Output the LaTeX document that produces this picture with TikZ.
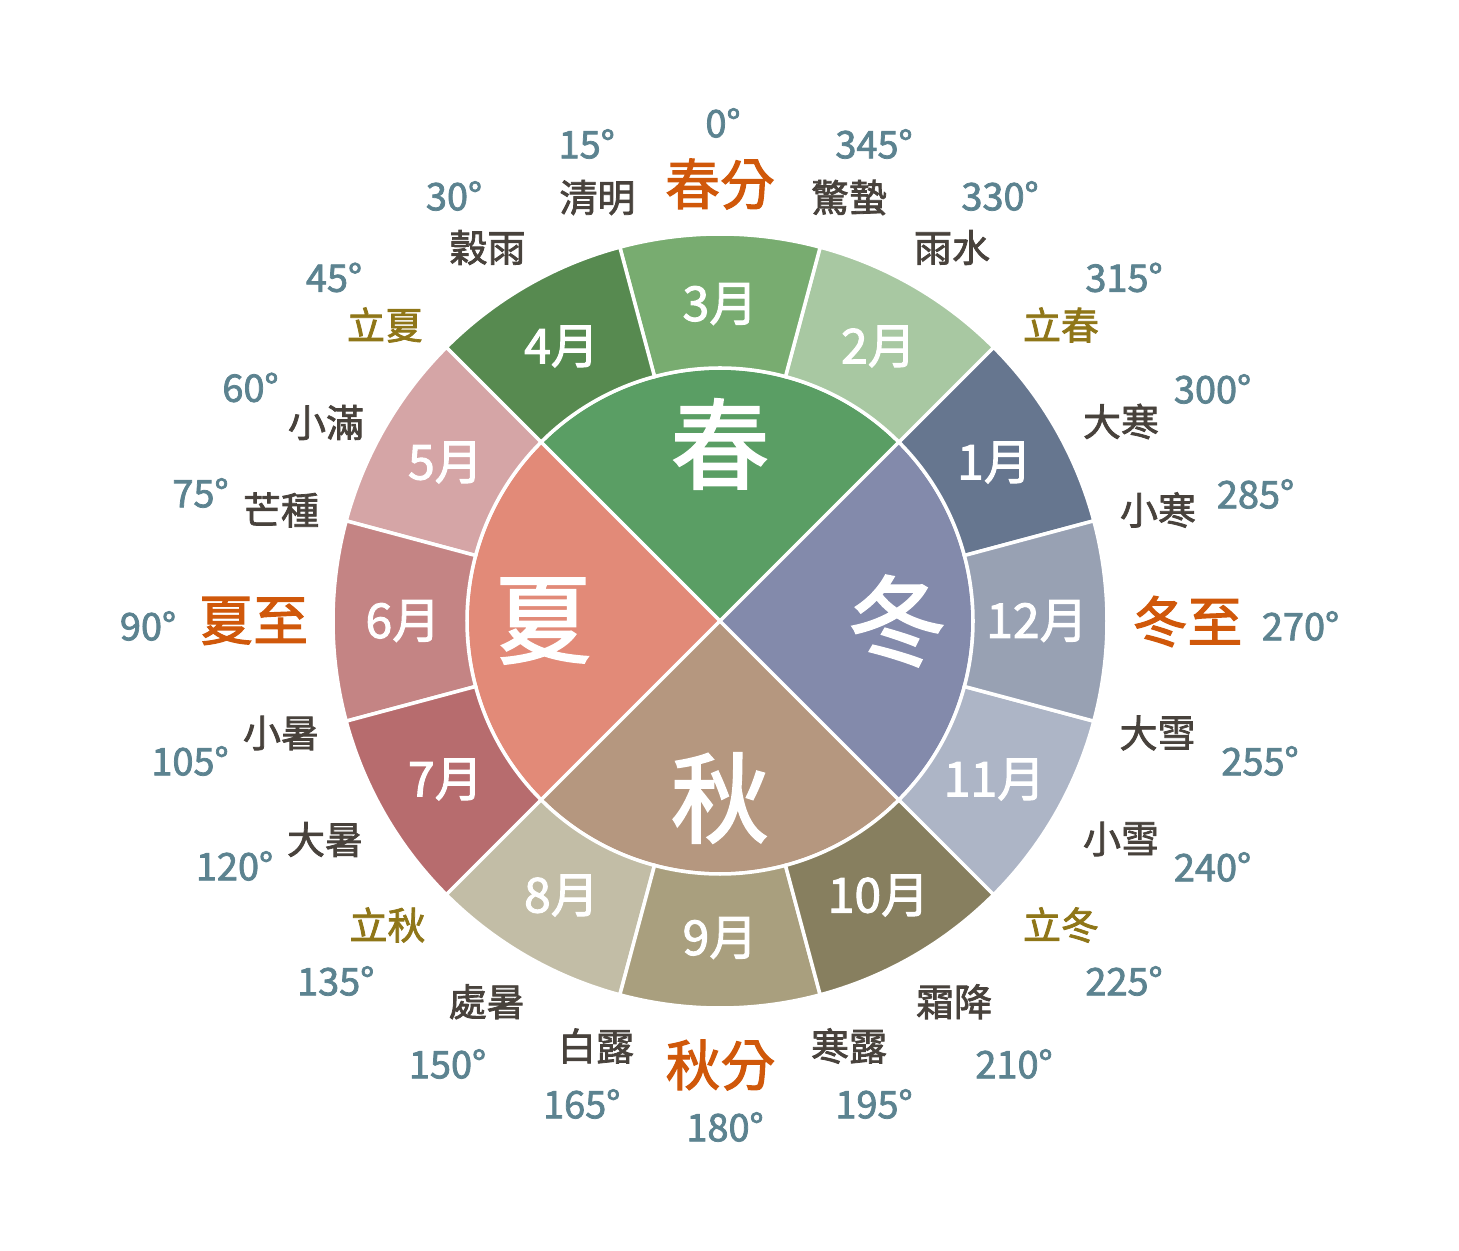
\documentclass[tikz,border=0pt]{standalone}
\usepackage{fontspec}
\setmainfont{Noto Sans CJK TC}[FakeBold=2]
\definecolor{spring}{HTML}{5A9E64}
\definecolor{summer}{HTML}{E28A78}
\definecolor{autumn}{HTML}{B5977F}
\definecolor{winter}{HTML}{838AAB}
\definecolor{month1}{HTML}{66768F}
\definecolor{month2}{HTML}{A8C8A2}
\definecolor{month3}{HTML}{78AC70}
\definecolor{month4}{HTML}{578A50}
\definecolor{month5}{HTML}{D5A5A6}
\definecolor{month6}{HTML}{C48484}
\definecolor{month7}{HTML}{B76C6E}
\definecolor{month8}{HTML}{C2BDA6}
\definecolor{month9}{HTML}{A99F7E}
\definecolor{month10}{HTML}{877F5F}
\definecolor{month11}{HTML}{ADB5C6}
\definecolor{month12}{HTML}{98A1B3}
\definecolor{termgrey}{HTML}{48423C}
\definecolor{termorange}{HTML}{D0580A}
\definecolor{termolive}{HTML}{8F7618}
\definecolor{deggrey}{HTML}{5C8390}
\usepackage{tikz}

\begin{document}
\begin{tikzpicture}[
    term/.style={text=termgrey, font=\fontsize{10.8}{12}\selectfont, inner sep=1pt},
    term major/.style={term, text=termorange, font=\fontsize{15.6}{17}\selectfont},
    term start/.style={term, text=termolive},
    deg/.style={text=deggrey, font=\fontsize{10.8}{12}\selectfont, inner sep=1pt},
    month/.style={text=white, font=\fontsize{13.7}{15}\selectfont},
    season/.style={text=white, font=\fontsize{28}{30}\selectfont},
    sector/.style={draw=white, line width=1pt}
]
    \useasboundingbox (-7.20,-6.30) rectangle (7.39,6.21);

    % Seasons (inner wedges)
    \foreach \a/\c/\n in {90/spring/春, 180/summer/夏, 270/autumn/秋, 0/winter/冬} {
        \filldraw[sector, fill=\c] (0,0) -- (\a-45:2.53) arc[start angle=\a-45, end angle=\a+45, radius=2.53] -- cycle;
        \node[season] (s\a) at (\a:1.77) {\n};
    }

    % Months (outer ring)
    \foreach \m in {1,...,12} {
        \pgfmathsetmacro\a{30*\m}
        \filldraw[sector, fill=month\m] (\a-15:2.53) arc[start angle=\a-15, end angle=\a+15, radius=2.53]
            -- (\a+15:3.87) arc[start angle=\a+15, end angle=\a-15, radius=3.87] -- cycle;
        \node[month] (m\m) at (\a:3.17) {\m{}月};
    }

    % Solar terms: longitude / name / style / name position / degree position
    \foreach \d/\n/\s/\x/\y/\u/\v in {
        0/春分/term major/0.00/4.37/0.03/4.98,
        15/清明/term/-1.225/4.235/-1.333/4.77,
        30/穀雨/term/-2.325/3.735/-2.66/4.25,
        45/立夏/term start/-3.35/2.96/-3.86/3.435,
        60/小滿/term/-3.94/1.985/-4.695/2.335,
        75/芒種/term/-4.39/1.11/-5.195/1.28,
        90/夏至/term major/-4.667/0.00/-5.72/-0.05,
        105/小暑/term/-4.39/-1.12/-5.30/-1.40,
        120/大暑/term/-3.95/-2.185/-4.855/-2.45,
        135/立秋/term start/-3.325/-3.04/-3.843/-3.60,
        150/處暑/term/-2.333/-3.807/-2.725/-4.43,
        165/白露/term/-1.24/-4.25/-1.383/-4.83,
        180/秋分/term major/0.005/-4.44/0.05/-5.06,
        195/寒露/term/1.29/-4.25/1.54/-4.83,
        210/霜降/term/2.34/-3.807/2.94/-4.43,
        225/立冬/term start/3.41/-3.04/4.04/-3.60,
        240/小雪/term/4.01/-2.18/4.925/-2.46,
        255/大雪/term/4.375/-1.12/5.40/-1.40,
        270/冬至/term major/4.675/-0.005/5.805/-0.05,
        285/小寒/term/4.38/1.11/5.355/1.27,
        300/大寒/term/4.01/1.995/4.925/2.32,
        315/立春/term start/3.41/2.96/4.04/3.435,
        330/雨水/term/2.32/3.735/2.80/4.25,
        345/驚蟄/term/1.29/4.235/1.54/4.77} {
        \node[\s] (t\d) at (\x,\y) {\n};
        \node[deg] (d\d) at (\u,\v) {\d{}°};
    }
\end{tikzpicture}
\end{document}
